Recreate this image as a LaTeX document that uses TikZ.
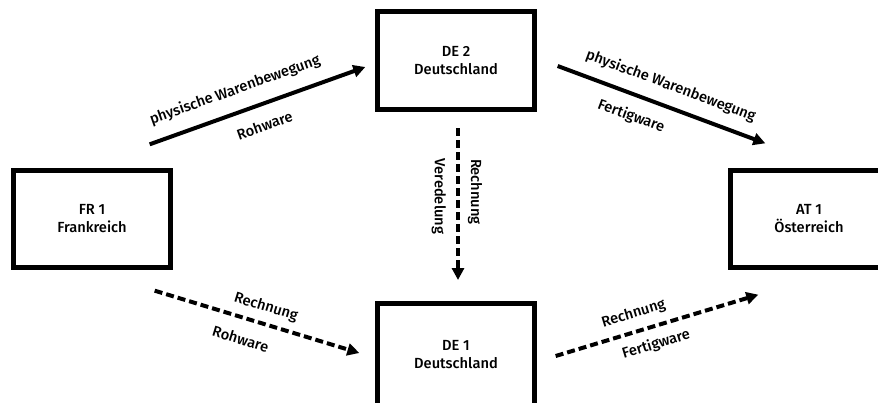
\documentclass[tikz,border=0pt]{standalone}
\usepackage{fontspec}
\setmainfont{Fira Sans}[UprightFont=* Medium]
\usetikzlibrary{arrows.meta}

\begin{document}
\begin{tikzpicture}[x=0.75pt, y=-0.75pt,
        land/.style={draw, line width=3.75pt, minimum width=118pt, minimum height=73pt,
            align=center, font=\fontsize{11}{13.5}\selectfont},
        ware/.style={line width=3pt, -{Triangle[length=9pt, width=9pt]}},
        rechnung/.style={ware, dash pattern=on 6pt off 3pt},
        lbl/.style={sloped, inner sep=2pt, font=\fontsize{11}{13.5}\selectfont}]

        \useasboundingbox (0,0) rectangle (878,403);

        \node[land] (fr1) at (92,219) {FR 1\\Frankreich};
        \node[land] (de2) at (456,60.5) {DE 2\\Deutschland};
        \node[land, minimum height=78pt] (de1) at (456,355) {DE 1\\Deutschland};
        \node[land] (at1) at (809,219) {AT 1\\Österreich};

        \draw[ware]
            ([shift={(-23.5,-23.5)}]fr1.north east) -- ([shift={(-9.5,6.5)}]de2.west)
            node[lbl, pos=.43, above=7.5pt] {physische Warenbewegung}
            node[lbl, pos=.5, below=8pt] {Rohware};

        \draw[ware]
            ([shift={(20.5,5.5)}]de2.east) -- ([shift={(37.5,-24.5)}]at1.north west)
            node[lbl, pos=.51, above=6.5pt] {physische Warenbewegung}
            node[lbl, pos=.39, below=7pt] {Fertigware};

        \draw[rechnung]
            ([shift={(2,16.5)}]de2.south) -- ([shift={(2,-20.5)}]de1.north)
            node[lbl, pos=.42, above=4pt] {Rechnung}
            node[lbl, pos=.45, below=5.5pt] {Veredelung};

        \draw[rechnung]
            ([shift={(-18.5,20.5)}]fr1.south east) -- ([shift={(-15.5,-2)}]de1.west)
            node[lbl, pos=.52, above=3.5pt] {Rechnung}
            node[lbl, pos=.45, below=8pt] {Rohware};

        \draw[rechnung]
            ([shift={(18.5,1)}]de1.east) -- ([shift={(30.5,24.5)}]at1.south west)
            node[lbl, pos=.41, above=4.5pt] {Rechnung}
            node[lbl, pos=.47, below=4.5pt] {Fertigware};

    \end{tikzpicture}
\end{document}
